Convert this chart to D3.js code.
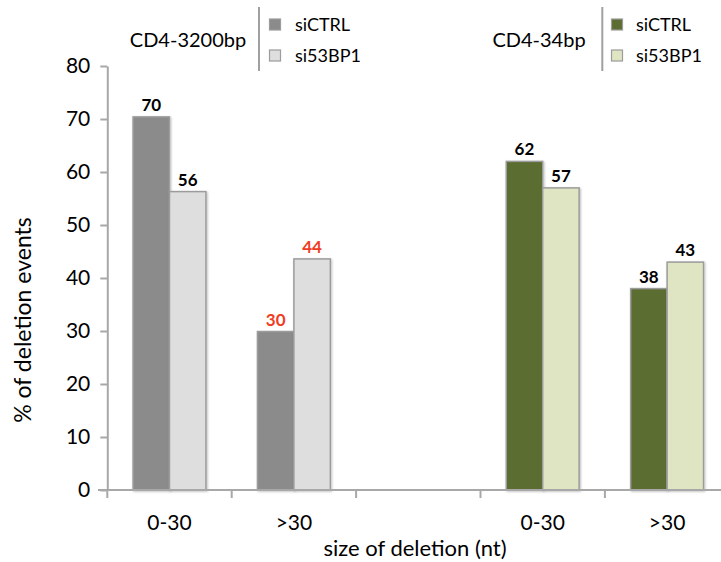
<!DOCTYPE html>
<html>
<head>
<meta charset="utf-8">
<script src="https://cdn.jsdelivr.net/npm/d3@7"></script>
<style>
  html, body { margin: 0; padding: 0; background: #fff; }
  svg { display: block; font-family: Lato, "Open Sans", sans-serif; }
</style>
</head>
<body>
<svg id="chart" width="721" height="562"></svg>
<script>
// ---- data ----
const categoryLabels = ["0-30", ">30", "", "0-30", ">30"];
const seriesNames = ["siCTRL", "si53BP1"];
const siCTRL = [70.4, 29.9, null, 62, 38];
const si53BP1 = [56.3, 43.6, null, 57, 43];
const highlightCTRL = [false, true, false, false, false];
const highlight53BP1 = [false, true, false, false, false];
const groupOf = ["CD4-3200bp", "CD4-3200bp", null, "CD4-34bp", "CD4-34bp"];
const legendGroups = ["CD4-3200bp", "CD4-34bp"];
const yTicks = [0, 10, 20, 30, 40, 50, 60, 70, 80];

// ---- styling ----
const fills = {
  "CD4-3200bp": {siCTRL: "#8b8b8b", si53BP1: "#dedede"},
  "CD4-34bp":   {siCTRL: "#5b6d32", si53BP1: "#dfe4c3"}
};
const axisColor = "#a8a8a8";
const barStroke = "#9c9c9c";
const red = "#f03d1f";

const svg = d3.select("#chart");
const defs = svg.append("defs");
const f = defs.append("filter").attr("id", "shadow").attr("x", "-20%").attr("y", "-20%").attr("width", "140%").attr("height", "140%");
f.append("feDropShadow").attr("dx", 1).attr("dy", 1).attr("stdDeviation", 1).attr("flood-color", "#000").attr("flood-opacity", 0.25);

const y = d3.scaleLinear().domain([0, 80]).range([490, 66]);
const x = d3.scaleBand().domain(d3.range(categoryLabels.length)).range([107.3, 729.3]).padding(0);
const xs = d3.scaleBand().domain(seriesNames).range([x.bandwidth() * 0.207, x.bandwidth() * 0.793]).padding(0);

// bars
const rows = [];
categoryLabels.forEach((c, i) => {
  if (siCTRL[i] == null) return;
  rows.push({i, s: "siCTRL", v: siCTRL[i], hl: highlightCTRL[i], g: groupOf[i]});
  rows.push({i, s: "si53BP1", v: si53BP1[i], hl: highlight53BP1[i], g: groupOf[i]});
});

svg.append("g").selectAll("rect").data(rows).join("rect")
  .attr("x", d => x(d.i) + xs(d.s))
  .attr("y", d => y(d.v))
  .attr("width", xs.bandwidth())
  .attr("height", d => y(0) - y(d.v))
  .attr("fill", d => fills[d.g][d.s])
  .attr("stroke", barStroke)
  .attr("stroke-width", 1.5)
  .attr("filter", "url(#shadow)");

svg.append("g").selectAll("text").data(rows).join("text")
  .attr("x", d => x(d.i) + xs(d.s) + xs.bandwidth() / 2)
  .attr("y", d => y(d.v) - 6)
  .attr("text-anchor", "middle")
  .attr("font-size", 17)
  .attr("font-weight", "bold")
  .attr("fill", d => d.hl ? red : "#000")
  .text(d => d3.format(".0f")(d.v));

// y axis
const yAxis = svg.append("g").attr("transform", "translate(107.3,0)")
  .call(d3.axisLeft(y).tickValues(yTicks).tickSize(7).tickPadding(10).tickSizeOuter(0));
yAxis.select(".domain").attr("stroke", axisColor).attr("stroke-width", 2);
yAxis.selectAll(".tick line").attr("stroke", axisColor).attr("stroke-width", 2);
yAxis.selectAll(".tick text").attr("font-size", 21).attr("font-family", "Lato").attr("fill", "#000");

// x axis
const xAxisG = svg.append("g");
xAxisG.append("line").attr("x1", 98).attr("x2", 721).attr("y1", y(0)).attr("y2", y(0))
  .attr("stroke", axisColor).attr("stroke-width", 2);
xAxisG.selectAll("line.tk").data(d3.range(categoryLabels.length)).join("line").attr("class", "tk")
  .attr("x1", d => x(d)).attr("x2", d => x(d))
  .attr("y1", y(0)).attr("y2", y(0) + 8)
  .attr("stroke", axisColor).attr("stroke-width", 2);
xAxisG.selectAll("text").data(categoryLabels).join("text")
  .attr("x", (d, i) => x(i) + x.bandwidth() / 2)
  .attr("y", 530)
  .attr("text-anchor", "middle")
  .attr("font-size", 21)
  .text(d => d);

// axis titles
svg.append("text").attr("x", 415).attr("y", 556).attr("text-anchor", "middle")
  .attr("font-size", 22).text("size of deletion (nt)");
svg.append("text").attr("transform", "translate(31,320) rotate(-90)").attr("text-anchor", "middle")
  .attr("font-size", 23).text("% of deletion events");

// legends
const legendPos = [
  {title: 188, line: 259, sq: 269.5, tx: 295},
  {title: 539, line: 602.3, sq: 611.5, tx: 636}
];
legendGroups.forEach((g, k) => {
  const p = legendPos[k];
  const lg = svg.append("g");
  lg.append("text").attr("x", p.title).attr("y", 47).attr("text-anchor", "middle")
    .attr("font-size", 20).text(g);
  lg.append("line").attr("x1", p.line).attr("x2", p.line).attr("y1", 7).attr("y2", 71)
    .attr("stroke", "#a0a0a0").attr("stroke-width", 2);
  seriesNames.forEach((s, j) => {
    const yy = 19 + j * 31;
    lg.append("rect").attr("x", p.sq).attr("y", yy).attr("width", 11).attr("height", 11)
      .attr("fill", fills[g][s]).attr("stroke", barStroke).attr("stroke-width", 1.2);
    lg.append("text").attr("x", p.tx).attr("y", yy + 11.5).attr("font-size", 18).text(s);
  });
});
</script>
</body>
</html>
